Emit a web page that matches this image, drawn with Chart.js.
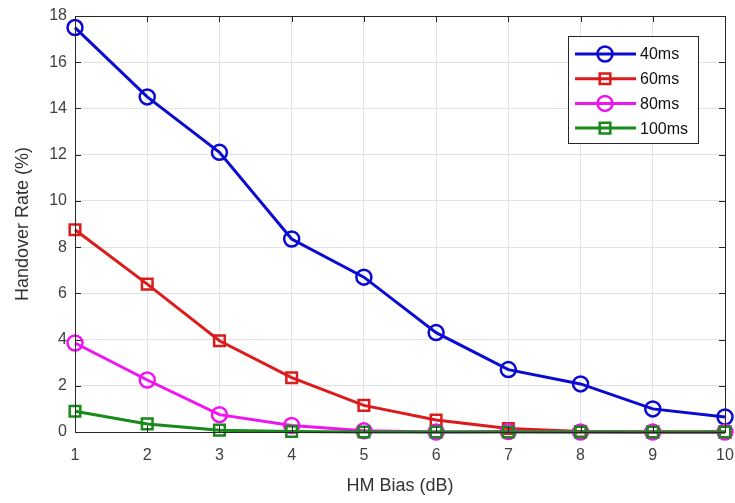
<!DOCTYPE html>
<html>
<head>
<meta charset="utf-8">
<script src="https://cdn.jsdelivr.net/npm/chart.js@4.4.0/dist/chart.umd.min.js"></script>
<style>
  html, body { margin: 0; padding: 0; background: #fff; }
  #wrap { width: 735px; height: 503px; }
</style>
</head>
<body>
<div id="wrap"><canvas id="hoChart" width="735" height="503"></canvas></div>
<script>
// values
const hmBias = [1, 2, 3, 4, 5, 6, 7, 8, 9, 10];
const rate40 = [17.5, 14.5, 12.1, 8.35, 6.7, 4.3, 2.7, 2.08, 1.0, 0.65];
const rate60 = [8.75, 6.4, 3.95, 2.35, 1.15, 0.52, 0.15, 0.02, 0, 0];
const rate80 = [3.85, 2.25, 0.75, 0.28, 0.05, 0, 0.02, 0, 0, 0];
const rate100 = [0.9, 0.35, 0.08, 0.02, 0, 0, 0, 0, 0, 0];
const seriesNames = ['40ms', '60ms', '80ms', '100ms'];
const yTicks = [0, 2, 4, 6, 8, 10, 12, 14, 16, 18];

const toPoints = vals => vals.map((v, i) => ({ x: hmBias[i], y: v }));

function makeSet(label, vals, color, style, order) {
    return {
        label: label,
        data: toPoints(vals),
        borderColor: color,
        backgroundColor: 'rgba(0,0,0,0)',
        borderWidth: 3,
        pointStyle: style,
        pointRadius: 7.5,
        pointBorderWidth: 2.5,
        pointBackgroundColor: 'rgba(0,0,0,0)',
        pointBorderColor: color,
        tension: 0,
        clip: false,
        order: order
    };
}

// box round the axes, inward tick marks on all four sides
const axesBox = {
    id: 'axesBox',
    afterDraw(chart) {
        const { ctx, chartArea: a, scales } = chart;
        ctx.save();
        ctx.strokeStyle = '#262626';
        ctx.lineWidth = 1;
        ctx.beginPath();
        hmBias.forEach(v => {
            const x = Math.round(scales.x.getPixelForValue(v)) + 0.5;
            ctx.moveTo(x, a.bottom); ctx.lineTo(x, a.bottom - 6);
            ctx.moveTo(x, a.top); ctx.lineTo(x, a.top + 6);
        });
        yTicks.forEach(v => {
            const y = Math.round(scales.y.getPixelForValue(v)) + 0.5;
            ctx.moveTo(a.left, y); ctx.lineTo(a.left + 6, y);
            ctx.moveTo(a.right, y); ctx.lineTo(a.right - 6, y);
        });
        ctx.stroke();
        ctx.strokeRect(Math.round(a.left) + 0.5, Math.round(a.top) + 0.5,
            Math.round(a.right - a.left), Math.round(a.bottom - a.top));
        ctx.restore();
    }
};

// legend drawn inside the axes, top right
const innerLegend = {
    id: 'innerLegend',
    afterDraw(chart) {
        const ctx = chart.ctx;
        const bx = 568, by = 36, bw = 130, bh = 107;
        ctx.save();
        ctx.fillStyle = '#fff';
        ctx.fillRect(bx, by, bw, bh);
        ctx.strokeStyle = '#262626';
        ctx.lineWidth = 1;
        ctx.strokeRect(bx + 0.5, by + 0.5, bw, bh);
        chart.data.datasets.forEach((ds, i) => {
            const y = 54 + i * 24.7;
            ctx.strokeStyle = ds.borderColor;
            ctx.lineWidth = 3;
            ctx.beginPath();
            ctx.moveTo(575, y); ctx.lineTo(636, y);
            ctx.stroke();
            ctx.lineWidth = 2.5;
            ctx.fillStyle = 'rgba(0,0,0,0)';
            Chart.helpers.drawPoint(ctx, {
                pointStyle: ds.pointStyle,
                radius: ds.pointRadius,
                borderWidth: 2.5,
                rotation: 0
            }, 605, y);
            ctx.fillStyle = '#111';
            ctx.font = '16px "Liberation Sans", Arial, sans-serif';
            ctx.textBaseline = 'middle';
            ctx.fillText(ds.label, 640, y + 1);
        });
        ctx.restore();
    }
};

const tickFont = { family: '"Liberation Sans", Arial, sans-serif', size: 16 };

new Chart(document.getElementById('hoChart').getContext('2d'), {
    type: 'line',
    data: {
        datasets: [
            makeSet(seriesNames[0], rate40, '#0a0ad2', 'circle', 4),
            makeSet(seriesNames[1], rate60, '#dc1c1c', 'rect', 3),
            makeSet(seriesNames[2], rate80, '#f014f0', 'circle', 2),
            makeSet(seriesNames[3], rate100, '#178a17', 'rect', 1)
        ]
    },
    options: {
        responsive: false,
        animation: false,
        layout: { padding: { top: 16, right: 10, left: 8, bottom: 4 } },
        plugins: { legend: { display: false }, tooltip: { enabled: false } },
        scales: {
            x: {
                type: 'linear',
                min: 1,
                max: 10,
                afterFit: s => {
                    s.height = 67;
                    s.paddingLeft = 0;
                    s.paddingRight = 0;
                },
                ticks: { stepSize: 1, color: '#404040', font: tickFont, padding: 14 },
                grid: { color: '#e2e2e2', drawTicks: false },
                border: { display: false },
                title: {
                    display: true,
                    text: 'HM Bias (dB)',
                    color: '#333',
                    font: { family: '"Liberation Sans", Arial, sans-serif', size: 18 },
                    padding: { top: 4, bottom: 2 }
                }
            },
            y: {
                min: 0,
                max: 18,
                afterFit: s => {
                    s.width = 67;
                    s.paddingTop = 0;
                    s.paddingBottom = 0;
                },
                afterBuildTicks: s => { s.ticks = yTicks.map(v => ({ value: v })); },
                ticks: { color: '#404040', font: tickFont, padding: 8 },
                grid: { color: '#e2e2e2', drawTicks: false },
                border: { display: false },
                title: {
                    display: true,
                    text: 'Handover Rate (%)',
                    color: '#333',
                    font: { family: '"Liberation Sans", Arial, sans-serif', size: 18 },
                    padding: { top: 4, bottom: 0 }
                }
            }
        }
    },
    plugins: [axesBox, innerLegend]
});
</script>
</body>
</html>
